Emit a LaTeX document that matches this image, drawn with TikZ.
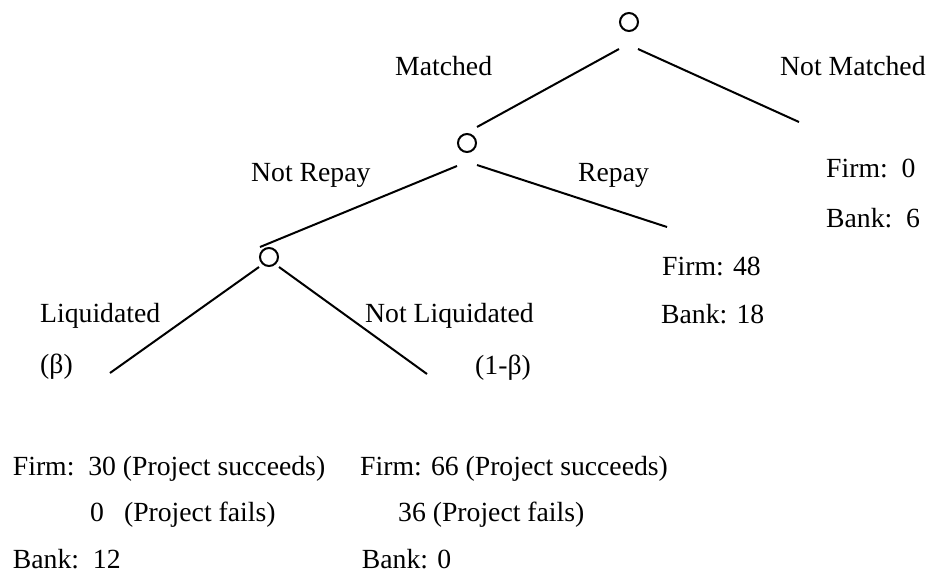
\documentclass[tikz,border=0pt]{standalone}
\usepackage{fontspec}
\setmainfont{Liberation Serif}
\begin{document}
\begin{tikzpicture}[x=1pt,y=-1pt,
  lbl/.style={inner sep=0pt, anchor=base west, font=\fontsize{27.7}{33}\selectfont},
  branch/.style={line width=2pt},
  chance/.style={circle, draw, line width=2pt, minimum size=18pt, inner sep=0pt}]
\useasboundingbox (0,0) rectangle (930,574);

% chance nodes
\node[chance] (top) at (629,22) {};
\node[chance] (mid) at (467,143) {};
\node[chance] (low) at (269,257) {};

% branch end points
\coordinate (topL) at (619,49);
\coordinate (topR) at (638,49);
\coordinate (midU) at (477,127);
\coordinate (nmEnd) at (799,122);
\coordinate (midL) at (457,166);
\coordinate (midR) at (477,165);
\coordinate (lowU) at (260,247);
\coordinate (rpEnd) at (667,227);
\coordinate (lowL) at (259,267);
\coordinate (lowR) at (279,267);
\coordinate (liqEnd) at (110,373);
\coordinate (nlEnd) at (427,374);

% branches
\draw[branch] (topL) -- (midU);
\draw[branch] (topR) -- (nmEnd);
\draw[branch] (midL) -- (lowU);
\draw[branch] (midR) -- (rpEnd);
\draw[branch] (lowL) -- (liqEnd);
\draw[branch] (lowR) -- (nlEnd);

% branch labels
\node[lbl] (matched) at (395,75) {Matched};
\node[lbl] (notmatched) at (780,75) {Not Matched};
\node[lbl] (notrepay) at (251,181) {Not Repay};
\node[lbl] (repay) at (578,181) {Repay};
\node[lbl] (liq) at (40,322) {Liquidated};
\node[lbl] (notliq) at (365,322) {Not Liquidated};
\node[lbl] (beta) at (40,373) {(β)};
\node[lbl] (onembeta) at (475,374) {(1-β)};

% payoffs
\node[lbl] (nmFirm) at (826,177) {Firm:\ \ 0};
\node[lbl] (nmBank) at (826,227) {Bank:\ \ 6};
\node[lbl] (rpFirm) at (662,275) {Firm: 48};
\node[lbl] (rpBank) at (661,323) {Bank: 18};
\node[lbl] (lqFirm) at (12.7,475) {Firm:\ \ 30 (Project succeeds)};
\node[lbl] (lqFail) at (90,521.7) {0\hspace{20pt}(Project fails)};
\node[lbl] (lqBank) at (12.7,568) {Bank:\ \ 12};
\node[lbl] (nlFirm) at (360,475) {Firm: 66 (Project succeeds)};
\node[lbl] (nlFail) at (398,521.7) {36 (Project fails)};
\node[lbl] (nlBank) at (361.7,568) {Bank: 0};
\end{tikzpicture}
\end{document}
